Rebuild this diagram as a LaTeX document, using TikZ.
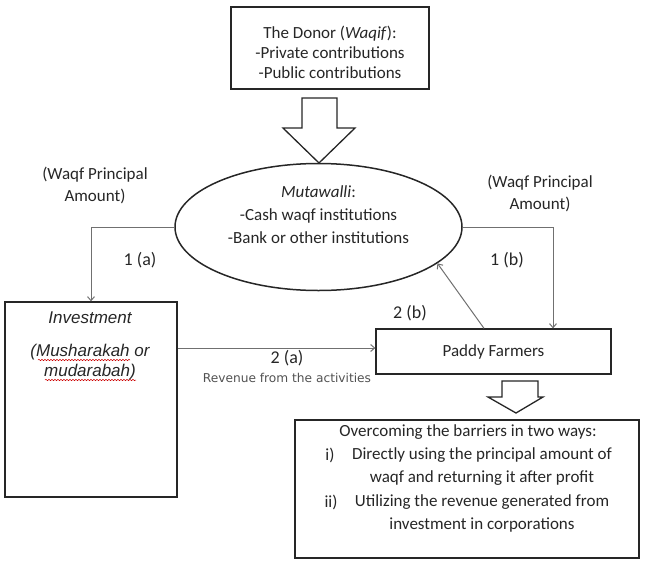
\documentclass[tikz,border=0pt]{standalone}
\usepackage{fontspec}
\setmainfont{Carlito}
\newfontfamily\arialf{Liberation Sans}
\newfontfamily\dejavuf{DejaVu Sans}
\usetikzlibrary{arrows.meta,shapes.geometric,decorations.pathmorphing}
\definecolor{txt}{HTML}{262626}
\definecolor{conncol}{HTML}{707070}
\begin{document}
\begin{tikzpicture}[x=1pt,y=-1pt,
  box/.style={draw=black!85, line width=1.3pt, rectangle, inner sep=0pt},
  blockarrow/.style={draw=black!85, line width=1.3pt, fill=white, line join=miter},
  conn/.style={draw=conncol, line width=1pt, -{Straight Barb[length=4pt,width=7pt]}},
  maintext/.style={text=txt, font=\fontsize{17}{20}\selectfont, align=center, inner sep=0pt},
  lbl/.style={text=txt, font=\fontsize{18}{20}\selectfont, inner sep=0pt},
  wavy/.style={draw=red!80!black, line width=0.5pt, decorate, decoration={snake, amplitude=0.7pt, segment length=3pt}}
]
\useasboundingbox (0,0) rectangle (659,568);

% Donor box
\node[box, minimum width=198pt, minimum height=82pt] (donor) at (330,48) {};
\node[maintext] (donortxt) at (330,52) {The Donor (\textit{Waqif}):\\-Private contributions\\-Public contributions};

% block arrow 1
\draw[blockarrow] (302,98) -- (337,98) -- (337,128) -- (355,128) -- (319,163) -- (283,128) -- (302,128) -- cycle;

% Mutawalli ellipse
\node[ellipse, draw=black!85, line width=1.5pt, minimum width=287pt, minimum height=127pt, inner sep=0pt] (mut) at (318.5,227) {};
\node[maintext, font=\fontsize{17}{23}\selectfont] (muttxt) at (318.5,215) {\textit{Mutawalli}:\\-Cash waqf institutions\\-Bank or other institutions};

% side labels
\node[maintext, font=\fontsize{17}{22}\selectfont] (wpl) at (95,185) {(Waqf Principal\\Amount)};
\node[maintext, font=\fontsize{17}{22}\selectfont] (wpr) at (540,193) {(Waqf Principal\\Amount)};

% Investment box
\node[box, minimum width=172pt, minimum height=195pt] (inv) at (91,399.5) {};
\node[text=txt, inner sep=0pt, font=\arialf\itshape\fontsize{17}{20}\selectfont] (invt) at (90,318) {Investment};
\node[text=txt, inner sep=0pt, align=center, font=\arialf\itshape\fontsize{17}{20}\selectfont] (invs) at (90,362) {(Musharakah or\\mudarabah)};
\draw[wavy] (38,360) -- (130,360);
\draw[wavy] (45,380) -- (136,380);

% Paddy farmers
\node[box, minimum width=235pt, minimum height=45pt, maintext] (paddy) at (493.5,351.5) {Paddy Farmers};

% block arrow 2
\draw[blockarrow] (502,381) -- (538,381) -- (538,397) -- (543,397) -- (516,413) -- (488,397) -- (502,397) -- cycle;

% Bottom box
\node[box, minimum width=344pt, minimum height=138pt] (over) at (467,489) {};
\node[maintext] (ov0) at (468,432) {Overcoming the barriers in two ways:};
\node[maintext] (ovi) at (330,455) {i)};
\node[maintext] (ov1) at (482,455) {Directly using the principal amount of};
\node[maintext] (ov2) at (482,478) {waqf and returning it after profit};
\node[maintext] (ovii) at (331,502) {ii)};
\node[maintext] (ov3) at (482,502) {Utilizing the revenue generated from};
\node[maintext] (ov4) at (482,525) {investment in corporations};

% connectors
\draw[conn] (mut.west) -| (inv.north);
\draw[conn] (mut.east) -| ([xshift=59.5pt]paddy.north);
\draw[conn] (inv.east |- 0,348) -- (paddy.west |- 0,348);
\draw[conn] ([xshift=-9.5pt]paddy.north) -- (mut.-17.2);

% connector labels
\node[lbl] (l1a) at (140,260) {1 (a)};
\node[lbl] (l1b) at (507,260) {1 (b)};
\node[lbl] (l2b) at (410,313) {2 (b)};
\node[lbl] (l2a) at (287,358) {2 (a)};
\node[text=txt!80, inner sep=0pt, font=\dejavuf\fontsize{12.2}{14}\selectfont] (rev) at (287,378) {Revenue from the activities};
\end{tikzpicture}
\end{document}
